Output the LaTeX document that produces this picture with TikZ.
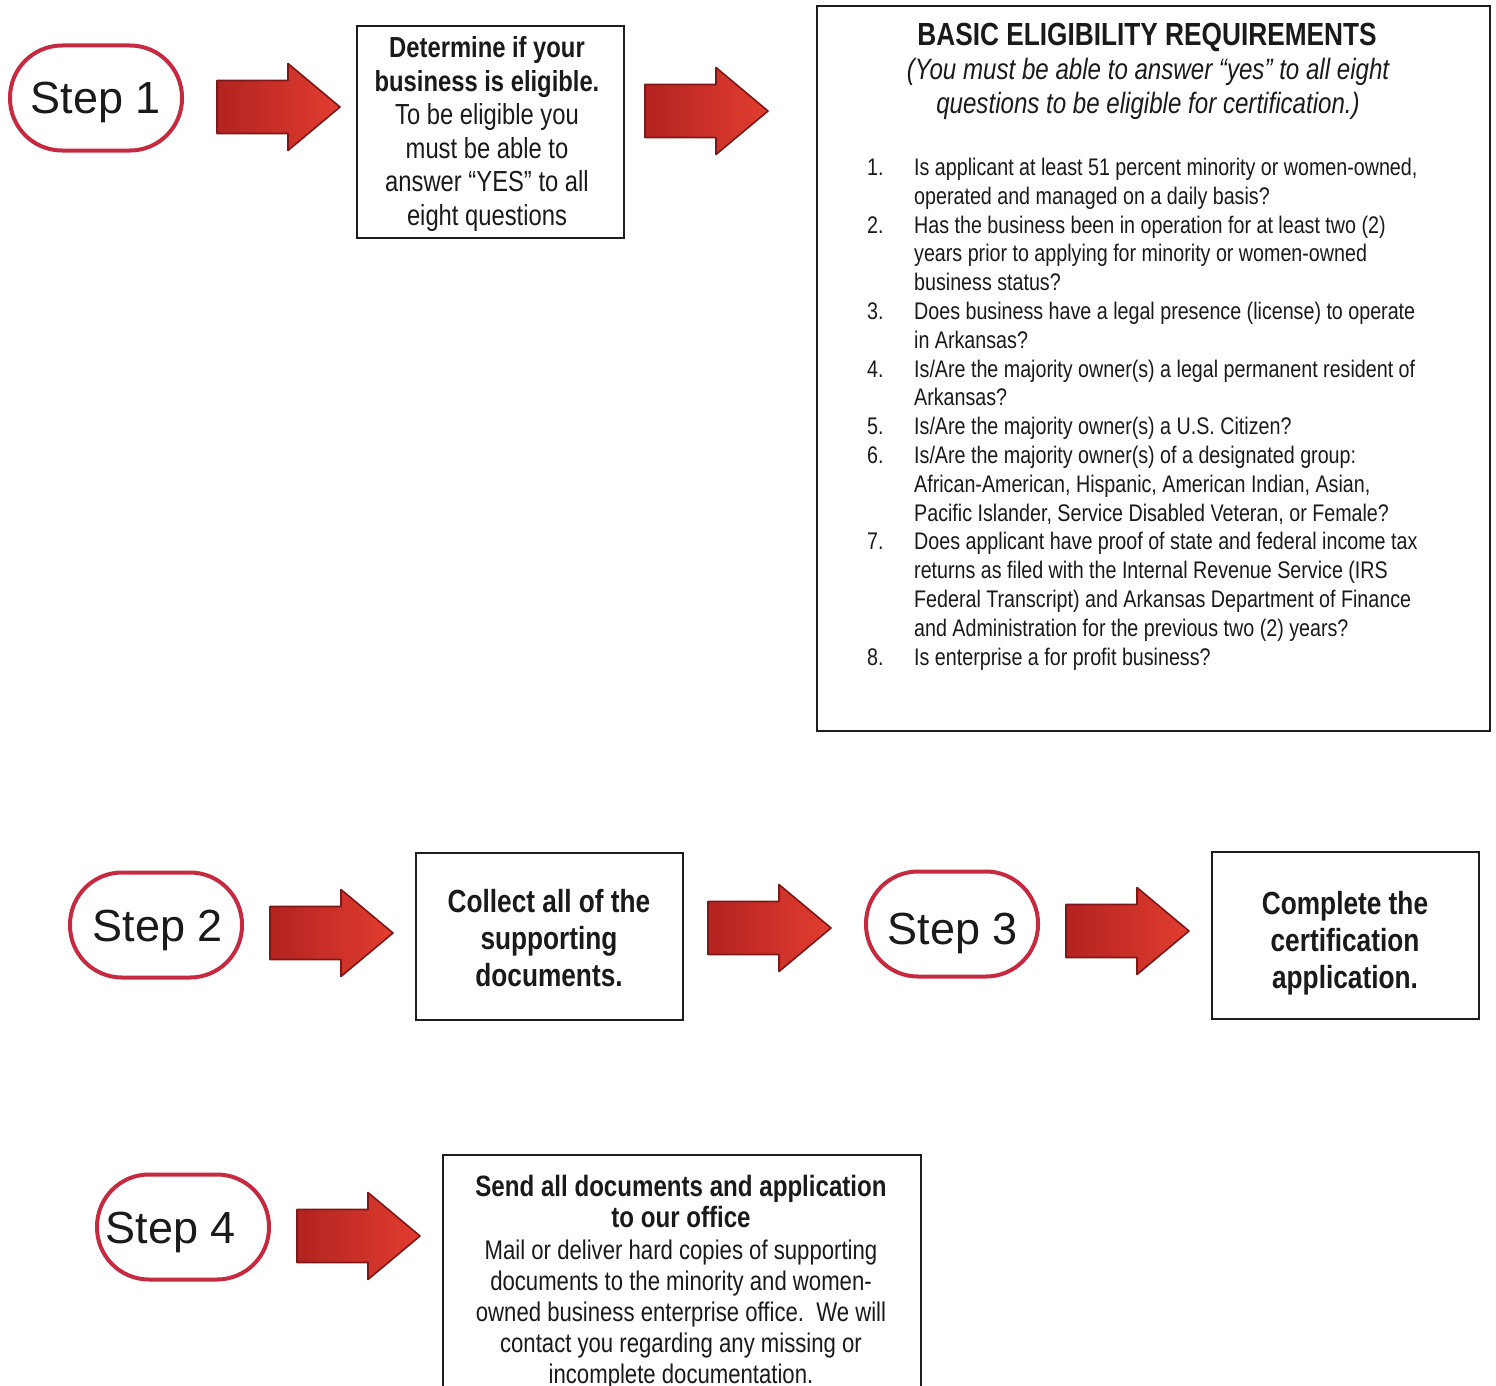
\documentclass[tikz,border=0pt]{standalone}
\usepackage{fontspec}
\setmainfont{Liberation Sans}
\newfontfamily\narrowfont[FakeStretch=0.82]{Liberation Sans}
\definecolor{ovalred}{HTML}{C62A40}
\definecolor{arrowdark}{HTML}{7E1818}
\definecolor{arrowL}{HTML}{B32320}
\definecolor{arrowR}{HTML}{E23D2F}
\definecolor{boxline}{HTML}{1E1E1E}
\definecolor{txt}{HTML}{1A1A1A}
\tikzset{
  stepoval/.style={draw=ovalred, line width=4pt, rounded corners=52pt, minimum width=172pt, minimum height=105pt, fill=white, inner sep=0pt},
  steplabel/.style={anchor=base, inner sep=0pt, text=txt, font=\fontsize{45}{54}\selectfont},
  textbox/.style={draw=boxline, line width=2.5pt, fill=white, inner sep=0pt},
  boxtext/.style={align=center, inner sep=0pt, text=txt},
  blockarrow/.pic={
    \path[draw=arrowdark, line width=1.6pt, line join=round, left color=arrowL, right color=arrowR]
      (0,-26.5) -- (71,-26.5) -- (71,-43.5) -- (123,0) -- (71,43.5) -- (71,26.5) -- (0,26.5) -- cycle;
  }
}
\begin{document}
\begin{tikzpicture}[x=1pt,y=-1pt]
\useasboundingbox (0,0) rectangle (1496,1386);
\clip (0,0) rectangle (1496,1386);
\fill[white] (0,0) rectangle (1496,1386);

% ---------- Row 1 ----------
\node[stepoval] (s1) at (96,98) {};
\node[steplabel] (s1t) at (96,114) {Step 1};
\pic at (217,107) {blockarrow};

\node[textbox, minimum width=267pt, minimum height=212pt] (b1) at (490.5,132) {};
\node[boxtext, font=\narrowfont\fontsize{29}{33.5}\selectfont] (b1t) at (487,134)
  {\textbf{Determine if your}\\\textbf{business is eligible.}\\To be eligible you\\must be able to\\answer “YES” to all\\eight questions};
\pic at (645,111) {blockarrow};

\node[textbox, minimum width=673pt, minimum height=725pt] (req) at (1153.5,368.5) {};
\node[boxtext, anchor=base, font=\narrowfont\bfseries\fontsize{32}{34}\selectfont] (reqt) at (1147,46) {BASIC ELIGIBILITY REQUIREMENTS};
\node[boxtext, anchor=base, font=\narrowfont\itshape\fontsize{29.4}{34}\selectfont] (reqs) at (1148,114)
  {(You must be able to answer “yes” to all eight\\questions to be eligible for certification.)};
\node[anchor=base west, inner sep=0pt, text=txt, font=\narrowfont\fontsize{24}{28.8}\selectfont] (reql) at (867,175.5)
 {\begin{tabular}[t]{@{}p{47pt}@{}l@{}}
 1. & Is applicant at least 51 percent minority or women-owned,\\
    & operated and managed on a daily basis?\\
 2. & Has the business been in operation for at least two (2)\\
    & years prior to applying for minority or women-owned\\
    & business status?\\
 3. & Does business have a legal presence (license) to operate\\
    & in Arkansas?\\
 4. & Is/Are the majority owner(s) a legal permanent resident of\\
    & Arkansas?\\
 5. & Is/Are the majority owner(s) a U.S. Citizen?\\
 6. & Is/Are the majority owner(s) of a designated group:\\
    & African-American, Hispanic, American Indian, Asian,\\
    & Pacific Islander, Service Disabled Veteran, or Female?\\
 7. & Does applicant have proof of state and federal income tax\\
    & returns as filed with the Internal Revenue Service (IRS\\
    & Federal Transcript) and Arkansas Department of Finance\\
    & and Administration for the previous two (2) years?\\
 8. & Is enterprise a for profit business?
 \end{tabular}};

% ---------- Row 2 ----------
\node[stepoval] (s2) at (156,925) {};
\node[steplabel] (s2t) at (158,941) {Step 2};
\pic at (270,933) {blockarrow};

\node[textbox, minimum width=267pt, minimum height=167pt] (b2) at (549.5,936.5) {};
\node[boxtext, font=\narrowfont\bfseries\fontsize{32}{37}\selectfont] (b2t) at (549,938)
  {Collect all of the\\supporting\\documents.};
\pic at (708,928) {blockarrow};

\node[stepoval] (s3) at (952,924) {};
\node[steplabel] (s3t) at (953,944) {Step 3};
\pic at (1066,931) {blockarrow};

\node[textbox, minimum width=267pt, minimum height=167pt] (b3) at (1345.5,935.5) {};
\node[boxtext, font=\narrowfont\bfseries\fontsize{32}{37}\selectfont] (b3t) at (1345,943)
  {Complete the\\certification\\application.};

% ---------- Row 3 ----------
\node[stepoval] (s4) at (183,1227) {};
\node[steplabel] (s4t) at (171,1243) {Step 4};
\pic at (297,1236) {blockarrow};

\node[textbox, minimum width=478pt, minimum height=270pt] (b4) at (682,1290) {};
\node[boxtext, font=\narrowfont\fontsize{27}{31.2}\selectfont] (b4t) at (681,1282.5)
  {{\fontsize{29.4}{31.2}\selectfont\bfseries Send all documents and application}\\{\fontsize{29.4}{31.2}\selectfont\bfseries to our office}\\Mail or deliver hard copies of supporting\\documents to the minority and women-\\owned business enterprise office.\ \ We will\\contact you regarding any missing or\\incomplete documentation.};
\end{tikzpicture}
\end{document}
